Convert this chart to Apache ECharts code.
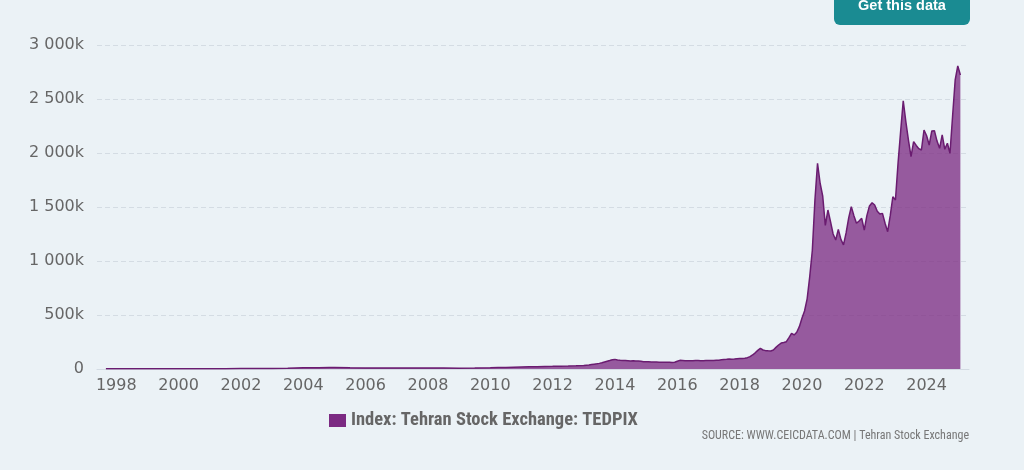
<!DOCTYPE html>
<html>
<head>
<meta charset="utf-8">
<script src="https://cdn.jsdelivr.net/npm/echarts@6/dist/echarts.min.js"></script>
<style>
  html, body { margin: 0; padding: 0; background: #ebf2f6; }
  #chart { width: 1024px; height: 470px; }
</style>
</head>
<body>
<div id="chart"></div>
<script>
// ---- data ----
const dates = [
  '1997-09','1998-01','1998-07','1999-01','1999-07','2000-01','2000-07','2001-01','2001-07',
  '2002-01','2002-07','2003-01','2003-07','2004-01','2004-07','2004-11','2005-01','2005-07',
  '2006-01','2006-07','2007-01','2007-07','2008-01','2008-07','2009-01','2009-07',
  '2010-01','2010-04','2010-07','2010-10','2011-01','2011-04','2011-07','2011-10',
  '2012-01','2012-04','2012-07','2012-10',
  '2013-01','2013-02','2013-03','2013-04','2013-05','2013-06','2013-07','2013-08','2013-09','2013-10','2013-11','2013-12',
  '2014-01','2014-02','2014-03','2014-04','2014-05','2014-06','2014-07','2014-08','2014-09','2014-10','2014-11','2014-12',
  '2015-01','2015-02','2015-03','2015-04','2015-05','2015-06','2015-07','2015-08','2015-09','2015-10','2015-11','2015-12',
  '2016-01','2016-02','2016-03','2016-04','2016-05','2016-06','2016-07','2016-08','2016-09','2016-10','2016-11','2016-12',
  '2017-01','2017-02','2017-03','2017-04','2017-05','2017-06','2017-07','2017-08','2017-09','2017-10','2017-11','2017-12',
  '2018-01','2018-02','2018-03','2018-04','2018-05','2018-06','2018-07','2018-08','2018-09','2018-10','2018-11','2018-12',
  '2019-01','2019-02','2019-03','2019-04','2019-05','2019-06','2019-07','2019-08','2019-09','2019-10','2019-11','2019-12',
  '2020-01','2020-02','2020-03','2020-04','2020-05','2020-06','2020-07','2020-08','2020-09','2020-10','2020-11','2020-12',
  '2021-01','2021-02','2021-03','2021-04','2021-05','2021-06','2021-07','2021-08','2021-09','2021-10','2021-11','2021-12',
  '2022-01','2022-02','2022-03','2022-04','2022-05','2022-06','2022-07','2022-08','2022-09','2022-10','2022-11','2022-12',
  '2023-01','2023-02','2023-03','2023-04','2023-05','2023-06','2023-07','2023-08','2023-09','2023-10','2023-11','2023-12',
  '2024-01','2024-02','2024-03','2024-04','2024-05','2024-06','2024-07','2024-08','2024-09','2024-10','2024-11','2024-12',
  '2025-01','2025-02'
];
const tedpix = [
  1900,2000,2100,2200,2500,2900,3300,3100,3300,
  3800,4500,5500,8000,11000,12500,13500,13000,11000,
  9700,9500,9800,9800,10000,9000,7600,9500,
  12000,13500,14000,16500,18500,20000,21500,24000,
  25000,26500,27500,29000,
  32000,35000,38000,42000,45000,48000,52000,58000,65000,72000,78000,85000,
  89000,83000,80000,79000,78000,77000,75000,76000,74000,73000,71000,68000,
  67000,66000,65000,64000,64000,63000,63000,62000,62000,62000,61000,63000,
  72000,80000,79000,77000,77000,76000,77000,78000,78000,77000,77000,78000,
  78000,79000,78000,80000,82000,85000,88000,90000,93000,91000,93000,96000,
  97000,97000,99000,105000,115000,130000,150000,172000,191000,176000,170000,168000,
  167000,176000,200000,222000,240000,245000,253000,290000,330000,315000,340000,392000,
  470000,537000,650000,855000,1100000,1565000,1905000,1720000,1600000,1330000,1472000,1364000,
  1250000,1194000,1293000,1200000,1150000,1260000,1400000,1503000,1420000,1349000,1370000,1395000,
  1287000,1420000,1510000,1540000,1518000,1460000,1435000,1441000,1350000,1271000,1420000,1595000,
  1565000,1905000,2200000,2484000,2290000,2120000,1966000,2105000,2070000,2040000,2028000,2213000,
  2160000,2074000,2204000,2207000,2110000,2043000,2167000,2034000,2090000,1997000,2340000,2676000,
  2806000,2722000
];
const yearTicks = [1998,2000,2002,2004,2006,2008,2010,2012,2014,2016,2018,2020,2022,2024];
const seriesName = 'Index: Tehran Stock Exchange: TEDPIX';
const sourceText = 'SOURCE: WWW.CEICDATA.COM | Tehran Stock Exchange';
const buttonText = 'Get this data';

// convert 'YYYY-MM' to a decimal year for the value axis
function toYear(s) {
  const [y, m] = s.split('-').map(Number);
  return y + (m - 1) / 12;
}
const points = dates.map((d, i) => [toYear(d), tedpix[i]]);

function fmtK(v) {
  if (v === 0) return '0';
  const k = Math.round(v / 1000);
  return String(k).replace(/\B(?=(\d{3})+(?!\d))/g, ' ') + 'k';
}

const chart = echarts.init(document.getElementById('chart'), null, { renderer: 'canvas' });
chart.setOption({
  backgroundColor: '#ebf2f6',
  animation: false,
  grid: { left: 97, right: 55, top: 45, bottom: 101 },
  xAxis: {
    type: 'value',
    min: 1997.381,
    max: 2025.36,
    axisLine: { show: true, lineStyle: { color: '#d3dbe3', width: 1 } },
    axisTick: { show: false },
    splitLine: { show: false },
    axisLabel: {
      customValues: yearTicks,
      formatter: v => String(Math.round(v)),
      color: '#666666',
      fontFamily: 'DejaVu Sans',
      fontSize: 16,
      margin: 9
    }
  },
  yAxis: {
    type: 'value',
    min: 0,
    max: 3000000,
    interval: 500000,
    axisLine: { show: false },
    axisTick: { show: false },
    splitLine: { show: true, lineStyle: { color: '#d4dce3', type: [5, 3], width: 1 } },
    axisLabel: {
      formatter: fmtK,
      color: '#666666',
      fontFamily: 'DejaVu Sans',
      fontSize: 16,
      margin: 13
    }
  },
  legend: {
    left: 324,
    top: 406,
    icon: 'rect',
    itemWidth: 17,
    itemHeight: 13,
    itemGap: 5,
    data: [seriesName],
    textStyle: {
      color: '#666666',
      fontWeight: 'bold',
      fontSize: 18.5,
      fontFamily: "'Liberation Sans Narrow', 'Roboto Condensed', 'Open Sans', sans-serif"
    }
  },
  series: [{
    name: seriesName,
    type: 'line',
    data: points,
    showSymbol: false,
    symbol: 'none',
    color: '#7b2a82',
    lineStyle: { color: '#6a1c70', width: 1.5 },
    areaStyle: { color: '#7b2a82', opacity: 0.76 }
  }],
  graphic: [
    {
      type: 'rect',
      shape: { x: 834, y: -10, width: 136, height: 35, r: 6 },
      style: { fill: '#1a8b92' }
    },
    {
      type: 'text',
      x: 902, y: 6,
      style: {
        text: buttonText,
        fill: '#ffffff',
        font: 'bold 14.5px "Liberation Sans", Arial, sans-serif',
        align: 'center',
        verticalAlign: 'middle'
      }
    },
    {
      type: 'text',
      x: 969, y: 436,
      style: {
        text: sourceText,
        fill: '#777777',
        font: '12px "Liberation Sans Narrow", "Roboto Condensed", "Open Sans", sans-serif',
        align: 'right',
        verticalAlign: 'middle'
      }
    }
  ]
});
</script>
</body>
</html>
